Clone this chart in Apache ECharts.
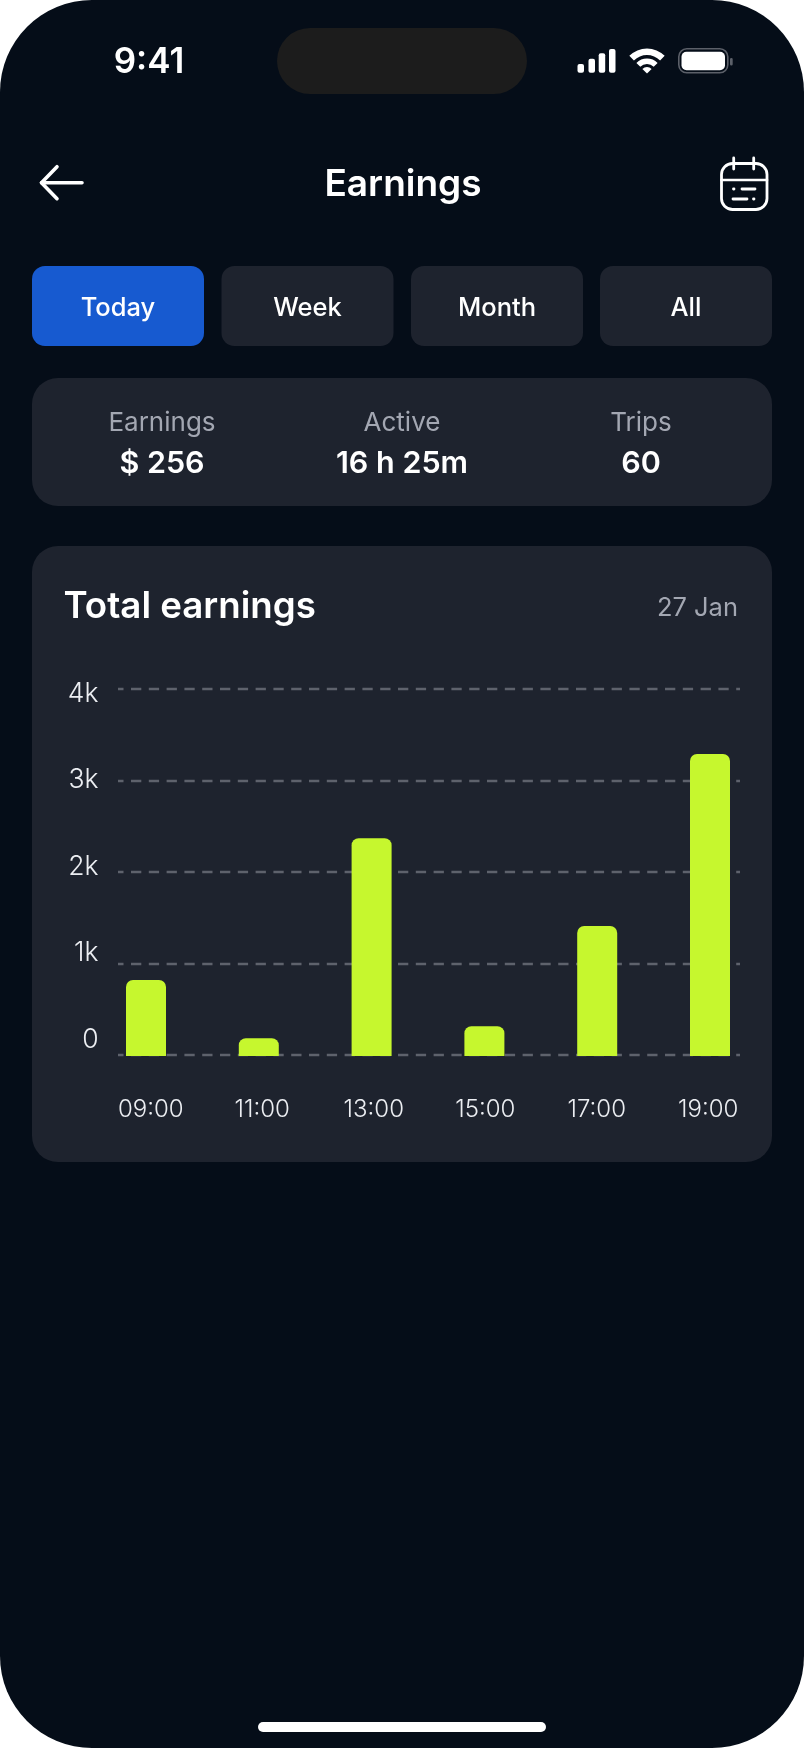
<!DOCTYPE html>
<html>
<head>
<meta charset="utf-8">
<title>Earnings</title>
<script src="https://cdn.jsdelivr.net/npm/echarts@6/dist/echarts.min.js"></script>
<style>
    html, body { margin: 0; padding: 0; background: #ffffff; }
    #main { width: 804px; height: 1748px; }
</style>
</head>
<body>
<div id="main"></div>
<script>
// chart data
var hourList = ['09:00', '11:00', '13:00', '15:00', '17:00', '19:00'];
var earningList = [830, 195, 2380, 325, 1420, 3300];
var yTickList = ['0', '1k', '2k', '3k', '4k'];
var tabList = ['Today', 'Week', 'Month', 'All'];
var statNameList = ['Earnings', 'Active', 'Trips'];
var statValueList = ['$ 256', '16 h 25m', '60'];

var FONT = 'Inter, "Noto Sans", sans-serif';
var BG = '#050d18';
var CARD = '#1e232e';
var GREY = '#a3a7b2';

function box(x, y, w, h, r, fill) {
    return { type: 'rect', z: -10, shape: { x: x, y: y, width: w, height: h, r: r }, style: { fill: fill } };
}
function label(text, x, y, size, weight, color, align) {
    return {
        type: 'text', z: 10, x: x, y: y,
        style: { text: text, fill: color || '#fff', font: weight + ' ' + size + 'px ' + FONT, align: align || 'center', verticalAlign: 'middle' }
    };
}
function stroke(points, width, color) {
    return {
        type: 'polyline', z: 10, shape: { points: points },
        style: { fill: null, stroke: color || '#fff', lineWidth: width, lineCap: 'round', lineJoin: 'round' }
    };
}
function wifi(r0, r) {
    return {
        type: 'sector', z: 10,
        shape: { cx: 647, cy: 73.5, r0: r0, r: r, startAngle: -Math.PI * 0.75, endAngle: -Math.PI * 0.25 },
        style: { fill: '#fff' }
    };
}

var graphicList = [
    box(0, 0, 804, 1748, 92, BG),
    box(277, 28, 250, 66, 33, '#1c1c1c'),
    label('9:41', 149, 62.5, 35, 600),

    // signal
    box(577.5, 64, 6.5, 8.7, 2, '#fff'),
    box(588.5, 58.7, 6.5, 14, 2, '#fff'),
    box(598.7, 53.3, 6.5, 19.4, 2, '#fff'),
    box(609, 49, 6.5, 23.7, 2, '#fff'),
    wifi(18.5, 25), wifi(9.5, 15), wifi(0, 6.5),

    // battery
    { type: 'rect', z: 10, shape: { x: 678.8, y: 48.8, width: 49, height: 24, r: 8 }, style: { fill: null, stroke: '#5c6069', lineWidth: 1.6 } },
    { type: 'rect', z: 10, shape: { x: 681.5, y: 51.7, width: 43.5, height: 18.6, r: 5 }, style: { fill: '#fff' } },
    { type: 'rect', z: 10, shape: { x: 730, y: 58, width: 2.7, height: 7.6, r: 1.3 }, style: { fill: '#5c6069' } },

    // back arrow
    stroke([[82, 182.7], [41.5, 182.7]], 3.6),
    stroke([[57, 166.7], [41.5, 182.7], [57, 198.7]], 3.6),
    label('Earnings', 403, 185, 37, 600),

    // calendar icon
    { type: 'rect', z: 10, shape: { x: 721.5, y: 163.5, width: 45.5, height: 46, r: 11 }, style: { fill: null, stroke: '#fff', lineWidth: 2.8 } },
    stroke([[721.5, 180], [767, 180]], 2.6),
    stroke([[733.7, 158], [733.7, 169]], 2.8),
    stroke([[753.7, 158], [753.7, 169]], 2.8),
    stroke([[733.5, 189], [734, 189]], 2.8),
    stroke([[742, 189], [755, 189]], 2.8),
    stroke([[733, 199], [747, 199]], 2.8),
    stroke([[753.5, 199], [754, 199]], 2.8),

    // stat card and chart card
    box(32, 378, 740, 128, 26, CARD),
    box(32, 546, 740, 616, 26, CARD),
    label('Total earnings', 63.5, 607, 36.7, 600, '#fff', 'left'),
    label('27 Jan', 738, 608, 25.5, 400, GREY, 'right')
];

var tabXList = [32, 221.5, 411, 600];
for (var i = 0; i < tabList.length; i++) {
    graphicList.push(box(tabXList[i], 266, 172, 80, 13, i == 0 ? '#175ad0' : CARD));
    graphicList.push(label(tabList[i], tabXList[i] + 86, 308.5, 25.5, 500));
}
var statXList = [162, 402, 641];
for (var i = 0; i < statNameList.length; i++) {
    graphicList.push(label(statNameList[i], statXList[i], 423.5, 26, 400, GREY));
    graphicList.push(label(statValueList[i], statXList[i], 464, 30.5, 600));
}
graphicList.push(box(258, 1722, 288, 10, 5, '#fff'));

var myChart = echarts.init(document.getElementById('main'));
var option = {
    animation: false,
    backgroundColor: 'transparent',
    graphic: graphicList,
    // the picture's tick labels, gridlines and bars do not share one frame, so one grid each
    grid: [
        { left: 95, width: 669, top: 694, height: 346 },
        { left: 118, width: 622, top: 689, height: 366 },
        { left: 89.6, width: 676.8, top: 690, height: 366 }
    ],
    xAxis: [
        {
            gridIndex: 0, type: 'category', data: hourList,
            axisLine: { show: false }, axisTick: { show: false },
            axisLabel: { color: '#eceef2', fontFamily: FONT, fontSize: 24, fontWeight: 300, margin: 58, interval: 0 }
        },
        { gridIndex: 1, type: 'value', min: 0, max: 1, show: false, splitLine: { show: false } },
        { gridIndex: 2, type: 'category', data: hourList, show: false }
    ],
    yAxis: [
        {
            gridIndex: 0, type: 'value', min: 0, max: 4000, interval: 1000,
            axisLine: { show: false }, axisTick: { show: false }, splitLine: { show: false },
            axisLabel: {
                color: '#eceef2', fontFamily: FONT, fontSize: 26.5, fontWeight: 300, margin: -3.5, align: 'right',
                formatter: function (value) { return yTickList[value / 1000]; }
            }
        },
        {
            gridIndex: 1, type: 'value', min: 0, max: 4000, interval: 1000,
            axisLine: { show: false }, axisTick: { show: false }, axisLabel: { show: false },
            splitLine: { show: true, lineStyle: { color: '#5e626c', width: 2.4, type: [10.3, 7.5], dashOffset: 4.8 } }
        },
        { gridIndex: 2, type: 'value', min: 0, max: 4000, interval: 1000, show: false, splitLine: { show: false } }
    ],
    series: [{
        name: 'Earnings',
        type: 'bar',
        xAxisIndex: 2,
        yAxisIndex: 2,
        barWidth: 40,
        data: earningList,
        itemStyle: { color: '#c6f72e', borderRadius: [7, 7, 0, 0] }
    }]
};
myChart.setOption(option);
</script>
</body>
</html>
